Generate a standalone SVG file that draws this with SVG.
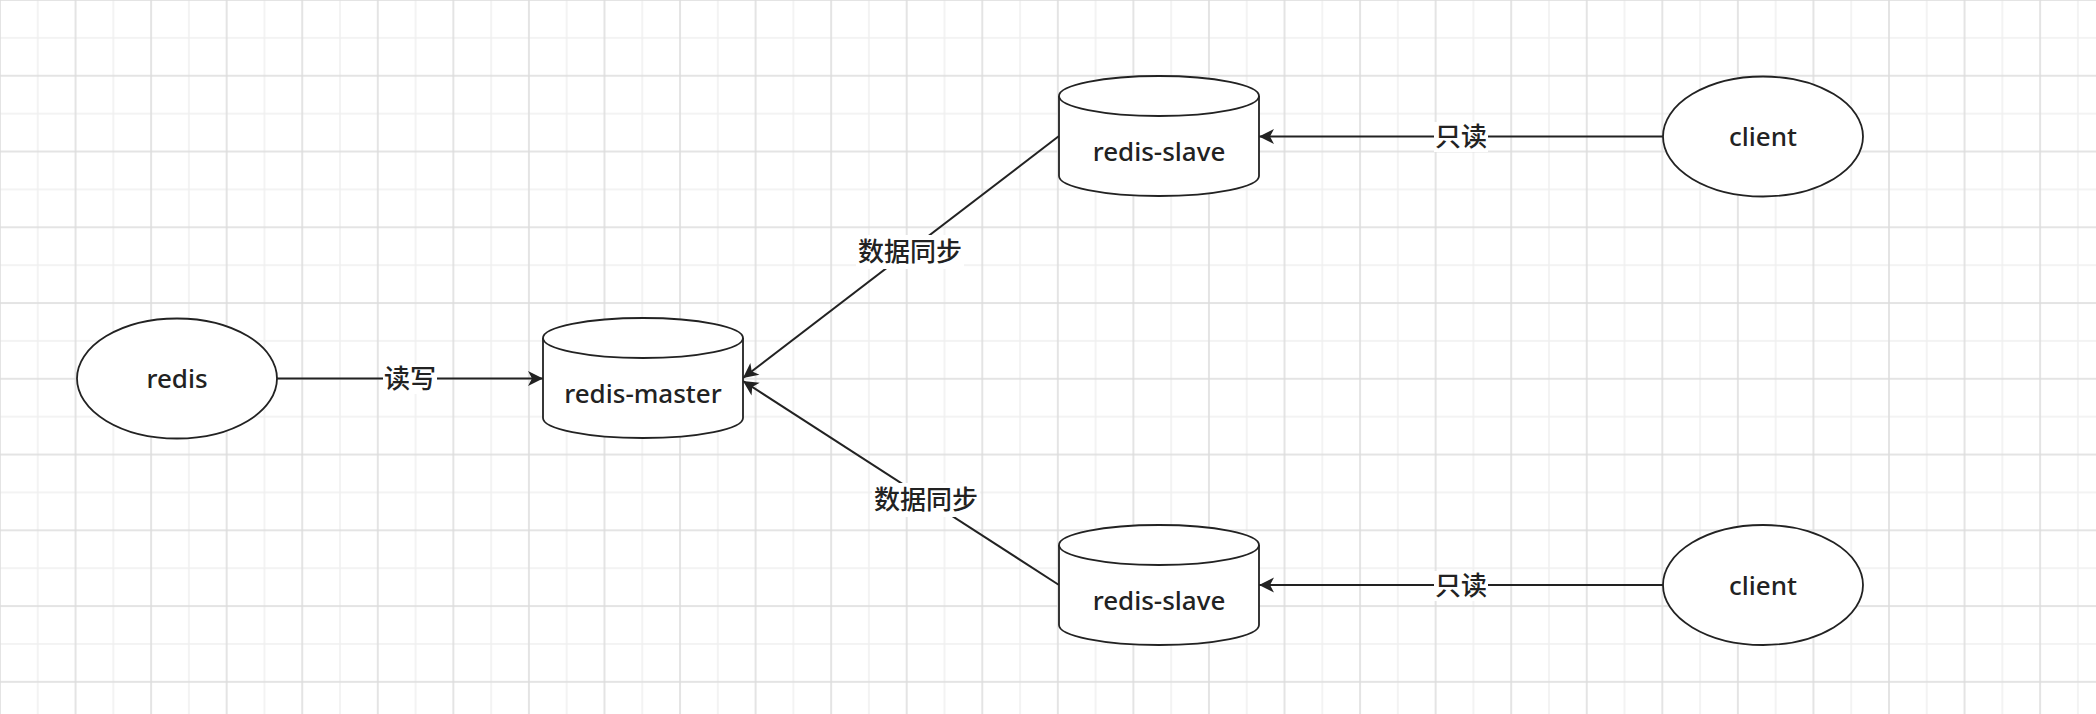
<svg xmlns="http://www.w3.org/2000/svg" width="2096" height="714" viewBox="0 0 2096 714">
<style>
.shape{fill:#ffffff;stroke:#222222;stroke-width:1.8}
.edge{fill:none;stroke:#222222;stroke-width:2}
.txt{font-family:"Noto Sans","Noto Sans CJK SC",sans-serif;font-size:26px;font-weight:500;fill:#222222;text-anchor:middle}
.lbl{font-family:"Noto Sans CJK SC","Noto Sans",sans-serif;font-size:26px;font-weight:500;fill:#222222;text-anchor:middle}
.lblbg{fill:#ffffff}
</style>
<defs>
<pattern id="grid" patternUnits="userSpaceOnUse" x="-1" y="-1" width="75.56" height="75.76">
<path d="M38.78 0V75.76M0 38.88H75.56" stroke="#efefef" stroke-width="1.5" fill="none"/>
<path d="M1 0V75.76M0 1H75.56" stroke="#dcdcdc" stroke-width="1.5" fill="none"/>
</pattern>
<marker id="arrow" viewBox="-16 -9 18 18" refX="0" refY="0" markerWidth="18" markerHeight="18" markerUnits="userSpaceOnUse" orient="auto">
<path d="M0,0 L-15,-7.5 L-11,0 L-15,7.5 Z" fill="#222222"/>
</marker>
</defs>
<rect x="0" y="0" width="2096" height="714" fill="#ffffff"/>
<rect x="0" y="0" width="2096" height="714" fill="url(#grid)"/>

<g id="connectors">
<path class="edge" d="M277 378.5H543" marker-end="url(#arrow)"/>
<path class="edge" d="M1663 136.5H1259" marker-end="url(#arrow)"/>
<path class="edge" d="M1663 585H1259" marker-end="url(#arrow)"/>
<path class="edge" d="M1059 136L743 378" marker-end="url(#arrow)"/>
<path class="edge" d="M1059 585L743 381" marker-end="url(#arrow)"/>
<g id="label-rw">
<rect class="lblbg" x="383" y="364" width="54" height="30"/>
<text class="lbl" x="410" y="388">读写</text>
</g>
<g id="label-ro-top">
<rect class="lblbg" x="1434" y="122" width="54" height="30"/>
<text class="lbl" x="1461" y="146">只读</text>
</g>
<g id="label-ro-bottom">
<rect class="lblbg" x="1434" y="571" width="54" height="30"/>
<text class="lbl" x="1461" y="595">只读</text>
</g>
<g id="label-sync-top">
<rect class="lblbg" x="856" y="235" width="108" height="34"/>
<text class="lbl" x="910" y="261">数据同步</text>
</g>
<g id="label-sync-bottom">
<rect class="lblbg" x="872" y="483" width="108" height="34"/>
<text class="lbl" x="926" y="509">数据同步</text>
</g>
</g>

<g id="redis">
<ellipse class="shape" cx="177" cy="378.5" rx="100" ry="60"/>
<text class="txt" x="177" y="388">redis</text>
</g>

<g id="redis-master">
<path class="shape" d="M543 338A100 20 0 0 1 743 338V418A100 20 0 0 1 543 418Z"/>
<path class="shape" d="M543 338A100 20 0 0 0 743 338"/>
<text class="txt" x="643" y="403">redis-master</text>
</g>

<g id="redis-slave-top">
<path class="shape" d="M1059 96A100 20 0 0 1 1259 96V176A100 20 0 0 1 1059 176Z"/>
<path class="shape" d="M1059 96A100 20 0 0 0 1259 96"/>
<text class="txt" x="1159" y="161">redis-slave</text>
</g>

<g id="redis-slave-bottom">
<path class="shape" d="M1059 545A100 20 0 0 1 1259 545V625A100 20 0 0 1 1059 625Z"/>
<path class="shape" d="M1059 545A100 20 0 0 0 1259 545"/>
<text class="txt" x="1159" y="610">redis-slave</text>
</g>

<g id="client-top">
<ellipse class="shape" cx="1763" cy="136.5" rx="100" ry="60"/>
<text class="txt" x="1763" y="146">client</text>
</g>

<g id="client-bottom">
<ellipse class="shape" cx="1763" cy="585" rx="100" ry="60"/>
<text class="txt" x="1763" y="594.5">client</text>
</g>
</svg>
